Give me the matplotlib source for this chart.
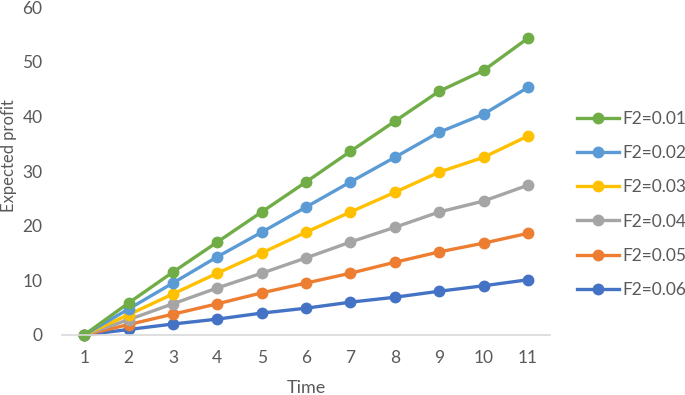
import matplotlib
matplotlib.use('Agg')
import matplotlib.pyplot as plt

plt.rcParams['font.family'] = ['Lato', 'DejaVu Sans']

time = [1, 2, 3, 4, 5, 6, 7, 8, 9, 10, 11]
labels = ['F2=0.01', 'F2=0.02', 'F2=0.03', 'F2=0.04', 'F2=0.05', 'F2=0.06']
f2_001 = [0, 5.85, 11.5, 17.0, 22.5, 28.0, 33.6, 39.1, 44.6, 48.4, 54.3]
f2_002 = [0, 4.75, 9.5, 14.3, 18.8, 23.4, 28.0, 32.5, 37.1, 40.4, 45.3]
f2_003 = [0, 3.7, 7.5, 11.3, 15.0, 18.8, 22.5, 26.1, 29.8, 32.5, 36.4]
f2_004 = [0, 2.8, 5.7, 8.6, 11.3, 14.1, 17.0, 19.7, 22.5, 24.5, 27.4]
f2_005 = [0, 1.9, 3.8, 5.7, 7.7, 9.5, 11.3, 13.3, 15.2, 16.8, 18.6]
f2_006 = [0, 1.0, 2.0, 2.9, 4.0, 4.9, 6.0, 6.9, 8.0, 9.0, 10.1]
series = [f2_001, f2_002, f2_003, f2_004, f2_005, f2_006]
colors = ['#70AD47', '#5B9BD5', '#FFC000', '#A5A5A5', '#ED7D31', '#4472C4']

fig = plt.figure(figsize=(6.85, 3.95), dpi=100)
ax = fig.add_axes([0.0905, 0.152, 0.7125, 0.830])

handles = [None] * len(series)
# draw last series first so green ends up on top
for k in range(len(series) - 1, -1, -1):
    h, = ax.plot(time, series[k], '-o', color=colors[k], lw=2.4, ms=7.5,
                 mec=colors[k], label=labels[k], clip_on=False)
    handles[k] = h

ax.set_xlim(0.5, 11.5)
ax.set_ylim(0, 60)
ax.set_xticks(time)
ax.set_yticks([0, 10, 20, 30, 40, 50, 60])
for s in ['top', 'right', 'left']:
    ax.spines[s].set_visible(False)
ax.spines['bottom'].set_color('#D9D9D9')
ax.spines['bottom'].set_linewidth(1.2)
ax.tick_params(length=0, labelsize=12.5, colors='#595959', pad=11)
ax.tick_params(axis='y', pad=14)

ax.set_xlabel('Time', fontsize=13, color='#595959', labelpad=10)
ax.set_ylabel('Expected profit', fontsize=12, color='#595959')
ax.yaxis.set_label_coords(-0.092, 0.546)

fig.legend(handles, labels, loc='upper left', bbox_to_anchor=(0.832, 0.737),
           frameon=False, fontsize=12.5, labelcolor='#595959',
           handlelength=2.4, handletextpad=0.2, labelspacing=1.05, borderaxespad=0)

fig.savefig('out.png', dpi=100)
